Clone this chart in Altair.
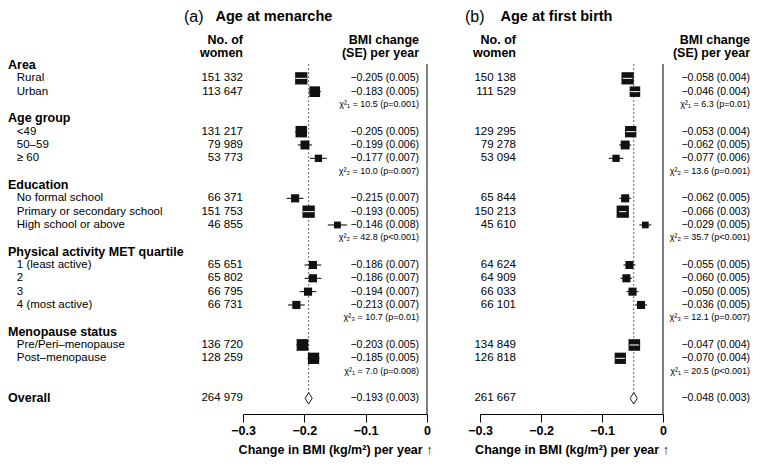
import altair as alt
import pandas as pd
import numpy as np

FONT = "Liberation Sans"

groups = ["Area", "Age group", "Education", "Physical activity MET quartile", "Menopause status"]
group_items = [
    ["Rural", "Urban"],
    ["<49", "50–59", "≥ 60"],
    ["No formal school", "Primary or secondary school", "High school or above"],
    ["1 (least active)", "2", "3", "4 (most active)"],
    ["Pre/Peri–menopause", "Post–menopause"],
]

# Panel (a) Age at menarche
a_n = [151332, 113647, 131217, 79989, 53773, 66371, 151753, 46855, 65651, 65802, 66795, 66731, 136720, 128259]
a_est = [-0.205, -0.183, -0.205, -0.199, -0.177, -0.215, -0.193, -0.146, -0.186, -0.186, -0.194, -0.213, -0.203, -0.185]
a_se = [0.005, 0.005, 0.005, 0.006, 0.007, 0.007, 0.005, 0.008, 0.007, 0.007, 0.007, 0.007, 0.005, 0.005]
a_chi = ["χ²₁ = 10.5  (p=0.001)", "χ²₂ = 10.0  (p=0.007)", "χ²₂ = 42.8  (p<0.001)",
         "χ²₃ = 10.7  (p=0.01)", "χ²₁ = 7.0  (p=0.008)"]
a_overall = {"n": 264979, "est": -0.193, "se": 0.003}

# Panel (b) Age at first birth
b_n = [150138, 111529, 129295, 79278, 53094, 65844, 150213, 45610, 64624, 64909, 66033, 66101, 134849, 126818]
b_est = [-0.058, -0.046, -0.053, -0.062, -0.077, -0.062, -0.066, -0.029, -0.055, -0.060, -0.050, -0.036, -0.047, -0.070]
b_se = [0.004, 0.004, 0.004, 0.005, 0.006, 0.005, 0.003, 0.005, 0.005, 0.005, 0.005, 0.005, 0.004, 0.004]
b_chi = ["χ²₁ = 6.3  (p=0.01)", "χ²₂ = 13.6  (p=0.001)", "χ²₂ = 35.7  (p<0.001)",
         "χ²₃ = 12.1  (p=0.007)", "χ²₁ = 20.5  (p<0.001)"]
b_overall = {"n": 261667, "est": -0.048, "se": 0.003}

tick_values = [-0.3, -0.2, -0.1, 0]
axis_title = "Change in BMI (kg/m²) per year ↑"

# ---------- row layout ----------
lbl_rows = []
item_rows = []
chi_rows = []
r = 0
for g, items in zip(groups, group_items):
    lbl_rows.append({"row": r, "label": g, "kind": "head"})
    r += 1
    for it in items:
        lbl_rows.append({"row": r, "label": it, "kind": "item"})
        item_rows.append(r)
        r += 1
    chi_rows.append(r)
    r += 1
overall_row = r + 1
lbl_rows.append({"row": overall_row, "label": "Overall", "kind": "head"})
lbl_df = pd.DataFrame(lbl_rows)

W, H = 744, 406
YS = alt.Scale(domain=[0, 25], range=[57, 390.3], nice=False, zero=False)
SIZE_SCALE = alt.Scale(type="linear", domain=[0, 150000], range=[0, 150], zero=True)
AREA_PER_N = 150 / 150000


def fmt_n(v):
    return f"{v:,}".replace(",", " ")


def fmt_b(e, s):
    return f"−{abs(e):.3f} ({s:.3f})"


def Y():
    return alt.Y("row:Q", scale=YS, axis=None)


def text_layer(df, x, align, size, weight="normal", field="t", dy=0, baseline="middle"):
    m = alt.Chart(df).mark_text(align=align, baseline=baseline, font=FONT, fontSize=size,
                                fontWeight=weight, color="black", dy=dy)
    return m.encode(x=alt.value(x), y=Y(), text=alt.Text(f"{field}:N"))


def panel(n, est, se, chi, ov, rng, ncol_x, bmi_x, tag, tag_x, ttl, ttl_x):
    df = pd.DataFrame({"row": item_rows, "n": n, "est": est, "se": se})
    df["lo"] = df.est - 1.96 * df.se
    df["hi"] = df.est + 1.96 * df.se
    ppu = (rng[1] - rng[0]) / 0.3
    df["inside"] = (1.96 * df.se * ppu) < (np.sqrt(df.n * AREA_PER_N) / 2)
    df["ntxt"] = df.n.map(fmt_n)
    df["btxt"] = [fmt_b(e, s) for e, s in zip(df.est, df.se)]
    ovdf = pd.DataFrame({"row": [overall_row], "est": [ov["est"]], "se": [ov["se"]],
                         "ntxt": [fmt_n(ov["n"])], "btxt": [fmt_b(ov["est"], ov["se"])]})
    chidf = pd.DataFrame({"row": chi_rows, "t": chi})
    zero_df = pd.DataFrame({"x": [0.0]})

    XS = alt.Scale(domain=[-0.3, 0], range=rng, nice=False, zero=False)
    AX = alt.Axis(values=tick_values, orient="bottom", title=axis_title, grid=False,
                  labelExpr="datum.value == 0 ? '0' : '\u2212' + format(abs(datum.value), '.1f')",
                  tickSize=8, tickColor="black", domainColor="black", domainWidth=1, tickWidth=1,
                  labelFont=FONT, labelFontSize=12.5, labelFontWeight="bold", labelColor="black",
                  labelPadding=2, labelFlush=False, labelOverlap=False,
                  titleFont=FONT, titleFontSize=12.5, titleFontWeight="bold", titleColor="black",
                  titlePadding=7)

    def X(f):
        return alt.X(f"{f}:Q", scale=XS, axis=AX)

    zero_rule = alt.Chart(zero_df).mark_rule(color="black", strokeWidth=1).encode(
        x=X("x"), y=alt.value(56), y2=alt.value(H))
    dash_rule = alt.Chart(ovdf).mark_rule(color="#444", strokeWidth=0.8, strokeDash=[2, 2]).encode(
        x=X("est"), y=alt.value(56), y2=alt.value(396))
    ci_black = alt.Chart(df).mark_rule(color="black", strokeWidth=1).encode(
        x=X("lo"), x2="hi:Q", y=Y())
    squares = alt.Chart(df).mark_square(color="#111", opacity=1, strokeWidth=0).encode(
        x=X("est"), y=Y(), size=alt.Size("n:Q", scale=SIZE_SCALE, legend=None))
    ci_white = alt.Chart(df[df.inside]).mark_rule(color="white", strokeWidth=1).encode(
        x=X("lo"), x2="hi:Q", y=Y())
    diamond = alt.Chart(ovdf).mark_point(
        shape="M0,-1L0.62,0L0,1L-0.62,0Z", filled=True, fill="white", stroke="black",
        strokeWidth=0.9, size=130, opacity=1).encode(x=X("est"), y=Y())

    ntext = text_layer(pd.concat([df[["row", "ntxt"]], ovdf[["row", "ntxt"]]]), ncol_x, "right", 11.5, field="ntxt")
    btext = text_layer(pd.concat([df[["row", "btxt"]], ovdf[["row", "btxt"]]]), bmi_x, "right", 10.5, field="btxt")
    ctext = text_layer(chidf, bmi_x, "right", 9, dy=-1)

    heads = []
    for txt, x, y in [("No. of", ncol_x, 35.5), ("women", ncol_x, 49.3),
                      ("BMI change", bmi_x, 35.5), ("(SE) per year", bmi_x, 49.3)]:
        heads.append(alt.Chart(pd.DataFrame({"t": [txt]})).mark_text(
            align="right", baseline="alphabetic", font=FONT, fontSize=12.5, fontWeight="bold",
            color="black").encode(x=alt.value(x), y=alt.value(y), text="t:N"))
    heads.append(alt.Chart(pd.DataFrame({"t": [tag]})).mark_text(
        align="left", baseline="middle", font=FONT, fontSize=16, color="black").encode(
        x=alt.value(tag_x), y=alt.value(9), text="t:N"))
    heads.append(alt.Chart(pd.DataFrame({"t": [ttl]})).mark_text(
        align="left", baseline="middle", font=FONT, fontSize=14.5, fontWeight="bold", color="black").encode(
        x=alt.value(ttl_x), y=alt.value(9), text="t:N"))

    return alt.layer(zero_rule, dash_rule, ci_black, squares, ci_white, diamond,
                     ntext, btext, ctext, *heads)


lbl_df["t"] = lbl_df["label"]
head_layer = text_layer(lbl_df[lbl_df.kind == "head"], 0, "left", 12.5, weight="bold")
item_layer = text_layer(lbl_df[lbl_df.kind == "item"], 8.8, "left", 11.5)

panel_a = panel(a_n, a_est, a_se, a_chi, a_overall, [235, 419], 235, 411, "(a)", 176, "Age at menarche", 207.5)
panel_b = panel(b_n, b_est, b_se, b_chi, b_overall, [472, 655], 508, 742, "(b)", 457, "Age at first birth", 492.5)

chart = alt.layer(head_layer, item_layer, panel_a, panel_b).resolve_scale(
    x="independent"
).properties(
    width=W, height=H,
    padding={"left": 0, "top": 0, "right": 0, "bottom": 45},
    autosize=alt.AutoSizeParams(type="none"),
).configure_view(stroke=None)

chart.save("out.html", embed_options={"renderer": "svg", "actions": False})
